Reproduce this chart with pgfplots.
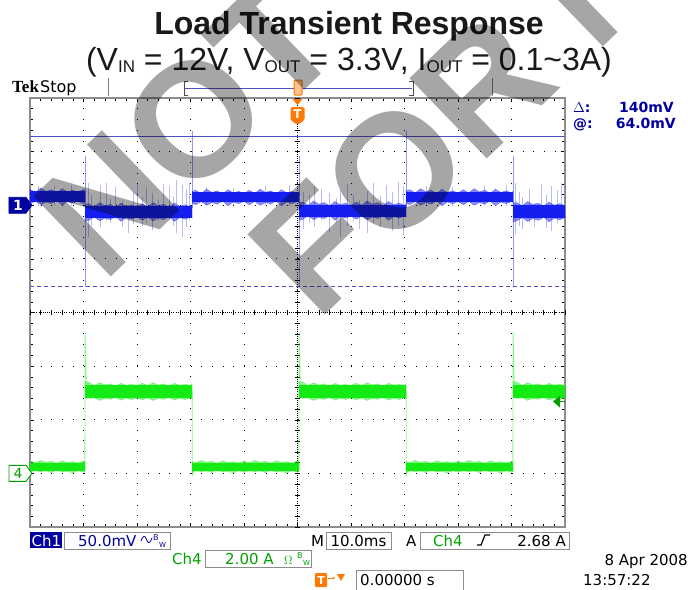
\documentclass[border=0pt]{standalone}
\usepackage{pgfplots}
\pgfplotsset{compat=1.18}
\usetikzlibrary{arrows.meta}
\usepackage{fontspec}
\setmainfont{Liberation Sans}
\newfontfamily\dv{DejaVu Sans}
\newfontfamily\tms{Liberation Serif}
\definecolor{navy}{RGB}{0,0,160}
\definecolor{trblue}{RGB}{20,30,240}
\definecolor{trgreen}{RGB}{20,235,20}
\definecolor{txgreen}{RGB}{0,160,0}
\definecolor{curs}{RGB}{80,80,200}
\definecolor{tekorange}{RGB}{255,120,0}
\definecolor{bordergray}{RGB}{140,140,140}
\newcommand{\sub}[1]{\raisebox{-2.5pt}{\fontsize{17}{17}\selectfont #1}}
\begin{document}
\begin{tikzpicture}
\path[use as bounding box] (0pt,0pt) rectangle (688pt,-589pt);
\begin{scope}[x=1pt,y=1pt]
% titles
\node[anchor=base, font=\fontsize{32}{38}\selectfont\bfseries, text=black!90, inner sep=0] at (349,-34) {Load Transient Response};
\node[anchor=base, font=\fontsize{32}{38}\selectfont, text=black!90, inner sep=0] at (349,-70) {(V\sub{IN} = 12V, V\sub{OUT} = 3.3V, I\sub{OUT} = 0.1\char`~3A)};
% top status bar
\node[anchor=base west, inner sep=0, font=\tms\fontsize{17}{17}\selectfont\bfseries] at (12,-92) {Tek};
\node[anchor=base west, inner sep=0, font=\dv\fontsize{16}{16}\selectfont] at (40,-92) {Stop};
\draw[gray, line width=0.6pt] (108,-78) -- (108,-96);
\draw[gray, line width=0.6pt] (492,-78) -- (492,-96);
\draw[curs, line width=1pt] (185,-88) -- (412,-88);
\draw[black!70, line width=0.7pt] (188,-81) -- (184,-81) -- (184,-95) -- (188,-95);
\draw[black!70, line width=0.7pt] (409,-81) -- (413,-81) -- (413,-95) -- (409,-95);
\draw[tekorange, fill=tekorange!45, line width=1pt, rounded corners=1pt] (294,-80) rectangle (302,-95);
% right readouts
\node[anchor=base west, inner sep=0, text=navy, font=\dv\fontsize{14}{14}\selectfont\bfseries] at (573,-112) {$\Delta$:};
\node[anchor=base east, inner sep=0, text=navy, font=\dv\fontsize{14}{14}\selectfont\bfseries] at (674,-112) {140mV};
\node[anchor=base west, inner sep=0, text=navy, font=\dv\fontsize{14}{14}\selectfont\bfseries] at (573,-128) {@:};
\node[anchor=base east, inner sep=0, text=navy, font=\dv\fontsize{14}{14}\selectfont\bfseries] at (676,-128) {64.0mV};
\end{scope}

\begin{axis}[at={(30pt,-527pt)}, anchor=south west, scale only axis,
  width=535pt, height=429pt, xmin=0, xmax=10, ymin=-4, ymax=4, clip=false,
  xtick={0,...,10}, ytick={-4,...,4}, minor x tick num=4, minor y tick num=4,
  xticklabels={}, yticklabels={}, tick align=inside,
  major tick length=4pt, minor tick length=3pt,
  tick style={black, line width=0.5pt},
  grid=major, major grid style={black, line width=0.9pt, dash pattern=on 0.9pt off 9.81pt},
  axis line style={bordergray, line width=2.5pt},
  unbounded coords=jump]
% center lines with ticks
\draw[black, line width=0.7pt, dash pattern=on 0.8pt off 1.34pt] (axis cs:0,0) -- (axis cs:10,0);
\draw[black, line width=0.7pt, dash pattern=on 0.8pt off 1.34pt] (axis cs:5,-4) -- (axis cs:5,4);
\pgfplotsinvokeforeach{0,0.2,...,10}{\draw[black, line width=0.5pt] ([yshift=-2.5pt]axis cs:#1,0) -- ([yshift=2.5pt]axis cs:#1,0);}
\pgfplotsinvokeforeach{-4,-3.8,...,4}{\draw[black, line width=0.5pt] ([xshift=-2.5pt]axis cs:5,#1) -- ([xshift=2.5pt]axis cs:5,#1);}

% cursors
\addplot[curs, line width=1pt] coordinates {(0,3.29) (10,3.29)};
\addplot[curs, line width=1pt, dash pattern=on 4pt off 3pt] coordinates {(0,0.49) (10,0.49)};

% ---- CH1 light spikes
\addplot[trblue, opacity=0.3, line width=0.7pt] coordinates {
(1.09,1.41)(1.09,2.42)(1.09,nan) (1.15,1.62)(1.15,2.20)(1.15,nan) (1.31,1.60)(1.31,2.38)(1.31,nan)
(1.42,1.72)(1.42,2.42)(1.42,nan) (1.50,1.66)(1.50,2.12)(1.50,nan) (1.59,1.74)(1.59,2.34)(1.59,nan)
(1.72,1.60)(1.72,2.08)(1.72,nan) (1.84,1.48)(1.84,1.91)(1.84,nan) (1.93,1.65)(1.93,2.25)(1.93,nan)
(2.00,1.80)(2.00,2.40)(2.00,nan) (2.10,1.62)(2.10,2.15)(2.10,nan) (2.18,1.67)(2.18,2.34)(2.18,nan)
(2.29,1.53)(2.29,2.23)(2.29,nan) (2.40,1.70)(2.40,2.10)(2.40,nan) (2.49,1.80)(2.49,2.40)(2.49,nan)
(2.61,1.72)(2.61,2.35)(2.61,nan) (2.68,1.62)(2.68,2.18)(2.68,nan) (2.74,1.49)(2.74,2.47)(2.74,nan)
(2.85,1.40)(2.85,2.38)(2.85,nan) (2.92,1.60)(2.92,2.30)(2.92,nan) (2.98,1.72)(2.98,2.42)(2.98,nan)
(5.10,1.55)(5.10,2.25)(5.10,nan) (5.22,1.66)(5.22,2.20)(5.22,nan) (5.32,1.60)(5.32,2.36)(5.32,nan)
(5.45,1.72)(5.45,2.30)(5.45,nan) (5.60,1.50)(5.60,2.22)(5.60,nan) (5.72,1.68)(5.72,2.14)(5.72,nan)
(5.80,1.41)(5.80,2.28)(5.80,nan) (5.93,1.62)(5.93,2.40)(5.93,nan) (6.05,1.70)(6.05,2.20)(6.05,nan)
(6.15,1.55)(6.15,2.10)(6.15,nan) (6.30,1.48)(6.30,2.26)(6.30,nan) (6.42,1.66)(6.42,2.42)(6.42,nan)
(6.55,1.60)(6.55,2.18)(6.55,nan) (6.66,1.74)(6.66,2.38)(6.66,nan) (6.78,1.52)(6.78,2.24)(6.78,nan)
(6.88,1.62)(6.88,2.44)(6.88,nan) (6.97,1.45)(6.97,2.35)(6.97,nan)
(9.08,1.47)(9.08,2.42)(9.08,nan) (9.14,1.62)(9.14,2.25)(9.14,nan) (9.20,1.55)(9.20,2.15)(9.20,nan)
(9.33,1.68)(9.33,2.30)(9.33,nan) (9.42,1.60)(9.42,2.05)(9.42,nan) (9.55,1.72)(9.55,2.40)(9.55,nan)
(9.66,1.58)(9.66,2.20)(9.66,nan) (9.75,1.52)(9.75,2.35)(9.75,nan) (9.86,1.66)(9.86,2.28)(9.86,nan)
(9.93,1.74)(9.93,2.42)(9.93,nan)
(0.15,1.98)(0.15,2.36)(0.15,nan) (0.45,2.00)(0.45,2.35)(0.45,nan) (0.78,1.99)(0.78,2.37)(0.78,nan)
(3.30,2.00)(3.30,2.34)(3.30,nan) (3.80,1.98)(3.80,2.33)(3.80,nan) (4.40,2.00)(4.40,2.36)(4.40,nan)
(4.85,1.99)(4.85,2.37)(4.85,nan) (7.40,2.00)(7.40,2.35)(7.40,nan) (7.90,1.99)(7.90,2.34)(7.90,nan)
(8.50,2.00)(8.50,2.36)(8.50,nan) (8.90,1.98)(8.90,2.37)(8.90,nan)
};
% CH1 transition spikes
\addplot[trblue, opacity=0.45, line width=0.8pt] coordinates {
(1.03,0.48)(1.03,2.92)(1.03,nan) (3.03,1.95)(3.03,3.38)(3.03,nan)
(5.03,0.48)(5.03,2.92)(5.03,nan) (7.03,1.95)(7.03,3.38)(7.03,nan)
(9.03,0.48)(9.03,2.92)
};
% CH1 fringe bands (noise envelope)
\addplot[fill=trblue, draw=trblue, line width=0.4pt, opacity=0.5] coordinates {
(0,2.30)(0.1,2.24)(0.2,2.32)(0.3,2.26)(0.4,2.29)(0.5,2.23)(0.6,2.31)(0.7,2.25)(0.8,2.28)(0.9,2.24)(1.0,2.30)(1.03,2.26)
(1.03,2.06)(1.0,2.02)(0.9,2.08)(0.8,2.04)(0.7,2.07)(0.6,2.00)(0.5,2.09)(0.4,2.03)(0.3,2.06)(0.2,2.01)(0.1,2.08)(0,2.02)
} -- cycle;
\addplot[fill=trblue, draw=trblue, line width=0.4pt, opacity=0.5] coordinates {
(1.03,2.02)(1.1,2.03)(1.2,1.97)(1.3,2.05)(1.4,1.99)(1.5,2.02)(1.6,1.96)(1.7,2.04)(1.8,1.98)(1.9,2.01)(2.0,1.97)
(2.1,2.03)(2.2,1.97)(2.3,2.05)(2.4,1.99)(2.5,2.02)(2.6,1.96)(2.7,2.04)(2.8,1.98)(2.9,2.01)(3.0,1.97)(3.03,2.00)
(3.03,1.76)(3.0,1.78)(2.9,1.74)(2.8,1.77)(2.7,1.70)(2.6,1.79)(2.5,1.73)(2.4,1.76)(2.3,1.71)(2.2,1.78)(2.1,1.72)
(2.0,1.78)(1.9,1.74)(1.8,1.77)(1.7,1.70)(1.6,1.79)(1.5,1.73)(1.4,1.76)(1.3,1.71)(1.2,1.78)(1.1,1.72)(1.03,1.70)
} -- cycle;
\addplot[fill=trblue, draw=trblue, line width=0.4pt, opacity=0.5] coordinates {
(3.03,2.26)(3.1,2.28)(3.2,2.22)(3.3,2.30)(3.4,2.24)(3.5,2.27)(3.6,2.21)(3.7,2.29)(3.8,2.23)(3.9,2.26)(4.0,2.22)
(4.1,2.28)(4.2,2.22)(4.3,2.30)(4.4,2.24)(4.5,2.27)(4.6,2.21)(4.7,2.29)(4.8,2.23)(4.9,2.26)(5.0,2.22)(5.03,2.25)
(5.03,2.05)(5.0,2.07)(4.9,2.03)(4.8,2.06)(4.7,1.99)(4.6,2.08)(4.5,2.02)(4.4,2.05)(4.3,2.00)(4.2,2.07)(4.1,2.01)
(4.0,2.07)(3.9,2.03)(3.8,2.06)(3.7,1.99)(3.6,2.08)(3.5,2.02)(3.4,2.05)(3.3,2.00)(3.2,2.07)(3.1,2.01)(3.03,2.04)
} -- cycle;
\addplot[fill=trblue, draw=trblue, line width=0.4pt, opacity=0.5] coordinates {
(5.03,2.05)(5.1,2.06)(5.2,2.00)(5.3,2.08)(5.4,2.02)(5.5,2.05)(5.6,1.99)(5.7,2.07)(5.8,2.01)(5.9,2.04)(6.0,2.00)
(6.1,2.06)(6.2,2.00)(6.3,2.08)(6.4,2.02)(6.5,2.05)(6.6,1.99)(6.7,2.07)(6.8,2.01)(6.9,2.04)(7.0,2.00)(7.03,2.03)
(7.03,1.78)(7.0,1.80)(6.9,1.76)(6.8,1.79)(6.7,1.72)(6.6,1.81)(6.5,1.75)(6.4,1.78)(6.3,1.73)(6.2,1.80)(6.1,1.74)
(6.0,1.80)(5.9,1.76)(5.8,1.79)(5.7,1.72)(5.6,1.81)(5.5,1.75)(5.4,1.78)(5.3,1.73)(5.2,1.80)(5.1,1.74)(5.03,1.72)
} -- cycle;
\addplot[fill=trblue, draw=trblue, line width=0.4pt, opacity=0.5] coordinates {
(7.03,2.27)(7.1,2.29)(7.2,2.23)(7.3,2.31)(7.4,2.25)(7.5,2.28)(7.6,2.22)(7.7,2.30)(7.8,2.24)(7.9,2.27)(8.0,2.23)
(8.1,2.29)(8.2,2.23)(8.3,2.31)(8.4,2.25)(8.5,2.28)(8.6,2.22)(8.7,2.30)(8.8,2.24)(8.9,2.27)(9.0,2.23)(9.03,2.26)
(9.03,2.05)(9.0,2.07)(8.9,2.03)(8.8,2.06)(8.7,1.99)(8.6,2.08)(8.5,2.02)(8.4,2.05)(8.3,2.00)(8.2,2.07)(8.1,2.01)
(8.0,2.07)(7.9,2.03)(7.8,2.06)(7.7,1.99)(7.6,2.08)(7.5,2.02)(7.4,2.05)(7.3,2.00)(7.2,2.07)(7.1,2.01)(7.03,2.04)
} -- cycle;
\addplot[fill=trblue, draw=trblue, line width=0.4pt, opacity=0.5] coordinates {
(9.03,2.04)(9.1,2.05)(9.2,1.99)(9.3,2.07)(9.4,2.01)(9.5,2.04)(9.6,1.98)(9.7,2.06)(9.8,2.00)(9.9,2.03)(10.0,1.99)
(10.0,1.77)(9.9,1.73)(9.8,1.76)(9.7,1.69)(9.6,1.78)(9.5,1.72)(9.4,1.75)(9.3,1.70)(9.2,1.77)(9.1,1.71)(9.03,1.69)
} -- cycle;
% CH1 dense cores
\addplot[fill=trblue, draw=none] coordinates {(0,2.26)(1.03,2.26)(1.03,2.07)(0,2.07)} -- cycle;
\addplot[fill=trblue, draw=none] coordinates {(1.03,1.98)(3.03,1.98)(3.03,1.77)(1.03,1.77)} -- cycle;
\addplot[fill=trblue, draw=none] coordinates {(3.03,2.24)(5.03,2.24)(5.03,2.06)(3.03,2.06)} -- cycle;
\addplot[fill=trblue, draw=none] coordinates {(5.03,2.01)(7.03,2.01)(7.03,1.79)(5.03,1.79)} -- cycle;
\addplot[fill=trblue, draw=none] coordinates {(7.03,2.25)(9.03,2.25)(9.03,2.06)(7.03,2.06)} -- cycle;
\addplot[fill=trblue, draw=none] coordinates {(9.03,2.00)(10,2.00)(10,1.77)(9.03,1.77)} -- cycle;

% ---- CH4 transitions
\addplot[trgreen, opacity=0.5, line width=0.8pt] coordinates {
(1.025,-2.90)(1.03,-0.37)(1.05,-1.25)(1.05,nan)
(3.03,-1.45)(3.035,-3.05)(3.06,-2.85)(3.06,nan)
(5.025,-2.90)(5.03,-0.37)(5.05,-1.25)(5.05,nan)
(7.03,-1.45)(7.035,-3.05)(7.06,-2.85)(7.06,nan)
(9.025,-2.90)(9.03,-0.37)(9.05,-1.25)
};
% CH4 fringe bands
\addplot[fill=trgreen, draw=trgreen, line width=0.4pt, opacity=0.5] coordinates {
(0,-2.77)(0.1,-2.80)(0.2,-2.76)(0.3,-2.79)(0.4,-2.775)(0.5,-2.81)(0.6,-2.765)(0.7,-2.795)(0.8,-2.78)(0.9,-2.805)(1.0,-2.77)(1.03,-2.79)
(1.03,-2.96)(1.0,-2.98)(0.9,-2.95)(0.8,-2.99)(0.7,-2.96)(0.6,-2.975)(0.5,-2.94)(0.4,-2.985)(0.3,-2.955)(0.2,-2.97)(0.1,-2.95)(0,-2.97)
} -- cycle;
\addplot[fill=trgreen, draw=trgreen, line width=0.4pt, opacity=0.5] coordinates {
(1.03,-1.28)(1.1,-1.30)(1.2,-1.36)(1.3,-1.31)(1.4,-1.35)(1.5,-1.33)(1.6,-1.37)(1.7,-1.32)(1.8,-1.355)(1.9,-1.34)(2.0,-1.36)
(2.1,-1.32)(2.2,-1.36)(2.3,-1.31)(2.4,-1.35)(2.5,-1.33)(2.6,-1.37)(2.7,-1.32)(2.8,-1.355)(2.9,-1.34)(3.0,-1.36)(3.03,-1.33)
(3.03,-1.60)(3.0,-1.59)(2.9,-1.625)(2.8,-1.595)(2.7,-1.635)(2.6,-1.58)(2.5,-1.62)(2.4,-1.60)(2.3,-1.64)(2.2,-1.59)(2.1,-1.63)
(2.0,-1.59)(1.9,-1.625)(1.8,-1.595)(1.7,-1.635)(1.6,-1.58)(1.5,-1.62)(1.4,-1.60)(1.3,-1.64)(1.2,-1.59)(1.1,-1.60)(1.03,-1.58)
} -- cycle;
\addplot[fill=trgreen, draw=trgreen, line width=0.4pt, opacity=0.5] coordinates {
(3.03,-2.78)(3.1,-2.80)(3.2,-2.76)(3.3,-2.79)(3.4,-2.775)(3.5,-2.81)(3.6,-2.765)(3.7,-2.795)(3.8,-2.78)(3.9,-2.805)(4.0,-2.77)
(4.1,-2.80)(4.2,-2.76)(4.3,-2.79)(4.4,-2.775)(4.5,-2.81)(4.6,-2.765)(4.7,-2.795)(4.8,-2.78)(4.9,-2.805)(5.0,-2.77)(5.03,-2.79)
(5.03,-2.96)(5.0,-2.98)(4.9,-2.95)(4.8,-2.99)(4.7,-2.96)(4.6,-2.975)(4.5,-2.94)(4.4,-2.985)(4.3,-2.955)(4.2,-2.97)(4.1,-2.95)
(4.0,-2.98)(3.9,-2.95)(3.8,-2.99)(3.7,-2.96)(3.6,-2.975)(3.5,-2.94)(3.4,-2.985)(3.3,-2.955)(3.2,-2.97)(3.1,-2.95)(3.03,-2.99)
} -- cycle;
\addplot[fill=trgreen, draw=trgreen, line width=0.4pt, opacity=0.5] coordinates {
(5.03,-1.28)(5.1,-1.30)(5.2,-1.36)(5.3,-1.31)(5.4,-1.35)(5.5,-1.33)(5.6,-1.37)(5.7,-1.32)(5.8,-1.355)(5.9,-1.34)(6.0,-1.36)
(6.1,-1.32)(6.2,-1.36)(6.3,-1.31)(6.4,-1.35)(6.5,-1.33)(6.6,-1.37)(6.7,-1.32)(6.8,-1.355)(6.9,-1.34)(7.0,-1.36)(7.03,-1.33)
(7.03,-1.60)(7.0,-1.59)(6.9,-1.625)(6.8,-1.595)(6.7,-1.635)(6.6,-1.58)(6.5,-1.62)(6.4,-1.60)(6.3,-1.64)(6.2,-1.59)(6.1,-1.63)
(6.0,-1.59)(5.9,-1.625)(5.8,-1.595)(5.7,-1.635)(5.6,-1.58)(5.5,-1.62)(5.4,-1.60)(5.3,-1.64)(5.2,-1.59)(5.1,-1.60)(5.03,-1.58)
} -- cycle;
\addplot[fill=trgreen, draw=trgreen, line width=0.4pt, opacity=0.5] coordinates {
(7.03,-2.78)(7.1,-2.80)(7.2,-2.76)(7.3,-2.79)(7.4,-2.775)(7.5,-2.81)(7.6,-2.765)(7.7,-2.795)(7.8,-2.78)(7.9,-2.805)(8.0,-2.77)
(8.1,-2.80)(8.2,-2.76)(8.3,-2.79)(8.4,-2.775)(8.5,-2.81)(8.6,-2.765)(8.7,-2.795)(8.8,-2.78)(8.9,-2.805)(9.0,-2.77)(9.03,-2.79)
(9.03,-2.96)(9.0,-2.98)(8.9,-2.95)(8.8,-2.99)(8.7,-2.96)(8.6,-2.975)(8.5,-2.94)(8.4,-2.985)(8.3,-2.955)(8.2,-2.97)(8.1,-2.95)
(8.0,-2.98)(7.9,-2.95)(7.8,-2.99)(7.7,-2.96)(7.6,-2.975)(7.5,-2.94)(7.4,-2.985)(7.3,-2.955)(7.2,-2.97)(7.1,-2.95)(7.03,-2.99)
} -- cycle;
\addplot[fill=trgreen, draw=trgreen, line width=0.4pt, opacity=0.5] coordinates {
(9.03,-1.28)(9.1,-1.30)(9.2,-1.36)(9.3,-1.31)(9.4,-1.35)(9.5,-1.33)(9.6,-1.37)(9.7,-1.32)(9.8,-1.355)(9.9,-1.34)(10.0,-1.36)
(10.0,-1.59)(9.9,-1.625)(9.8,-1.595)(9.7,-1.635)(9.6,-1.58)(9.5,-1.62)(9.4,-1.60)(9.3,-1.64)(9.2,-1.59)(9.1,-1.60)(9.03,-1.58)
} -- cycle;
% CH4 dense cores
\addplot[fill=trgreen, draw=none] coordinates {(0,-2.80)(1.03,-2.80)(1.03,-2.95)(0,-2.95)} -- cycle;
\addplot[fill=trgreen, draw=none] coordinates {(1.03,-1.36)(3.03,-1.36)(3.03,-1.59)(1.03,-1.59)} -- cycle;
\addplot[fill=trgreen, draw=none] coordinates {(3.03,-2.80)(5.03,-2.80)(5.03,-2.95)(3.03,-2.95)} -- cycle;
\addplot[fill=trgreen, draw=none] coordinates {(5.03,-1.36)(7.03,-1.36)(7.03,-1.59)(5.03,-1.59)} -- cycle;
\addplot[fill=trgreen, draw=none] coordinates {(7.03,-2.80)(9.03,-2.80)(9.03,-2.95)(7.03,-2.95)} -- cycle;
\addplot[fill=trgreen, draw=none] coordinates {(9.03,-1.36)(10,-1.36)(10,-1.59)(9.03,-1.59)} -- cycle;

% channel markers
\draw[navy, fill=navy, line width=0.6pt] ([xshift=2pt]axis cs:0,2) -- ([xshift=-4pt,yshift=8pt]axis cs:0,2) -- ([xshift=-21pt,yshift=8pt]axis cs:0,2) -- ([xshift=-21pt,yshift=-8pt]axis cs:0,2) -- ([xshift=-4pt,yshift=-8pt]axis cs:0,2) -- cycle;
\node[text=white, font=\dv\fontsize{14}{14}\selectfont\bfseries, inner sep=0] at ([xshift=-12pt]axis cs:0,2) {1};
\draw[txgreen, fill=white, line width=0.9pt] ([xshift=2pt]axis cs:0,-3) -- ([xshift=-4pt,yshift=8pt]axis cs:0,-3) -- ([xshift=-21pt,yshift=8pt]axis cs:0,-3) -- ([xshift=-21pt,yshift=-8pt]axis cs:0,-3) -- ([xshift=-4pt,yshift=-8pt]axis cs:0,-3) -- cycle;
\node[text=txgreen, font=\dv\fontsize{14}{14}\selectfont, inner sep=0] at ([xshift=-12pt]axis cs:0,-3) {4};
% trigger level
\fill[txgreen] ([xshift=-12pt]axis cs:10,-1.66) -- ([xshift=-5pt,yshift=6pt]axis cs:10,-1.66) -- ([xshift=-5pt,yshift=-6pt]axis cs:10,-1.66) -- cycle;
\draw[txgreen, line width=1pt] ([xshift=-6pt]axis cs:10,-1.66) -- (axis cs:10,-1.66);
% trigger position marker
\fill[tekorange] ([xshift=-5pt,yshift=-1pt]axis cs:5,4) -- ([xshift=5pt,yshift=-1pt]axis cs:5,4) -- ([yshift=-7pt]axis cs:5,4) -- cycle;
\fill[tekorange, rounded corners=1.5pt] ([xshift=-7pt,yshift=-9pt]axis cs:5,4) -- ([xshift=7pt,yshift=-9pt]axis cs:5,4) -- ([xshift=7pt,yshift=-22pt]axis cs:5,4) -- ([yshift=-27pt]axis cs:5,4) -- ([xshift=-7pt,yshift=-22pt]axis cs:5,4) -- cycle;
\node[text=white, font=\dv\fontsize{12}{12}\selectfont\bfseries, inner sep=0] at ([yshift=-16.5pt]axis cs:5,4) {T};
\end{axis}

\begin{scope}[x=1pt,y=1pt]
% bottom readouts
\fill[navy] (30,-532) rectangle (62,-548);
\node[anchor=base west, inner sep=0, text=white, font=\dv\fontsize{15}{15}\selectfont] at (31.5,-546) {Ch1};
\draw[black!45, line width=0.7pt] (64,-532) rectangle (170,-549);
\node[anchor=base west, inner sep=0, text=navy, font=\dv\fontsize{15}{15}\selectfont] at (78,-546) {50.0mV};
\draw[navy, line width=0.8pt] (141,-541) .. controls (143,-535) and (145,-535) .. (146.5,-539.5) .. controls (148,-544) and (150,-544) .. (152,-538);
\node[anchor=base west, inner sep=0, text=navy, font=\dv\fontsize{8}{8}\selectfont] at (153,-540) {B};
\node[anchor=base west, inner sep=0, text=navy, font=\dv\fontsize{7}{7}\selectfont] at (159,-547) {W};
\node[anchor=base west, inner sep=0, text=black, font=\dv\fontsize{15}{15}\selectfont] at (311,-546) {M};
\draw[black!45, line width=0.7pt] (326,-532) rectangle (391,-549);
\node[anchor=base, inner sep=0, text=black, font=\dv\fontsize{15}{15}\selectfont] at (358.5,-546) {10.0ms};
\node[anchor=base west, inner sep=0, text=black, font=\dv\fontsize{15}{15}\selectfont] at (406,-546) {A};
\draw[black!45, line width=0.7pt] (420,-532) rectangle (569,-549);
\node[anchor=base west, inner sep=0, text=txgreen, font=\dv\fontsize{15}{15}\selectfont] at (433,-546) {Ch4};
\draw[black, line width=1.2pt] (477,-545) -- (481,-545) -- (485,-535) -- (490,-535);
\node[anchor=base east, inner sep=0, text=black, font=\dv\fontsize{15}{15}\selectfont] at (566,-546) {2.68 A};
% row 2
\node[anchor=base west, inner sep=0, text=txgreen, font=\dv\fontsize{15}{15}\selectfont] at (172,-564) {Ch4};
\draw[black!45, line width=0.7pt] (205,-550) rectangle (311,-567);
\node[anchor=base west, inner sep=0, text=txgreen, font=\dv\fontsize{15}{15}\selectfont] at (225,-564) {2.00 A};
\node[anchor=base west, inner sep=0, text=txgreen, font=\dv\fontsize{12}{12}\selectfont] at (284,-564) {$\Omega$};
\node[anchor=base west, inner sep=0, text=txgreen, font=\dv\fontsize{8}{8}\selectfont] at (297,-558) {B};
\node[anchor=base west, inner sep=0, text=txgreen, font=\dv\fontsize{7}{7}\selectfont] at (303,-565) {W};
% row 3
\fill[tekorange, rounded corners=1pt] (315,-573) rectangle (327,-587);
\node[text=white, font=\dv\fontsize{11}{11}\selectfont\bfseries, inner sep=0] at (321,-580) {T};
\draw[tekorange, line width=1pt, -{Latex[length=3pt]}] (328,-578) -- (336,-578);
\fill[tekorange] (337,-574) -- (345,-574) -- (341,-581) -- cycle;
\draw[black!45, line width=0.7pt] (356,-570) rectangle (463,-590);
\node[anchor=base west, inner sep=0, text=black, font=\dv\fontsize{15}{15}\selectfont] at (360,-585) {0.00000 s};
% date
\node[anchor=base east, inner sep=0, text=black, font=\dv\fontsize{15}{15}\selectfont] at (688,-565) {8 Apr 2008};
\node[anchor=base west, inner sep=0, text=black, font=\dv\fontsize{15}{15}\selectfont] at (583,-585) {13:57:22};

% watermark
\begin{scope}[opacity=0.35]
\node[rotate=44, anchor=base west, inner sep=0, font=\fontsize{162}{162}\selectfont\bfseries] at (103,-285) {NOT};
\node[rotate=44, anchor=base west, inner sep=0, font=\fontsize{162}{162}\selectfont\bfseries] at (317,-323) {FOR NEW};
\end{scope}
\end{scope}
\end{tikzpicture}
\end{document}
